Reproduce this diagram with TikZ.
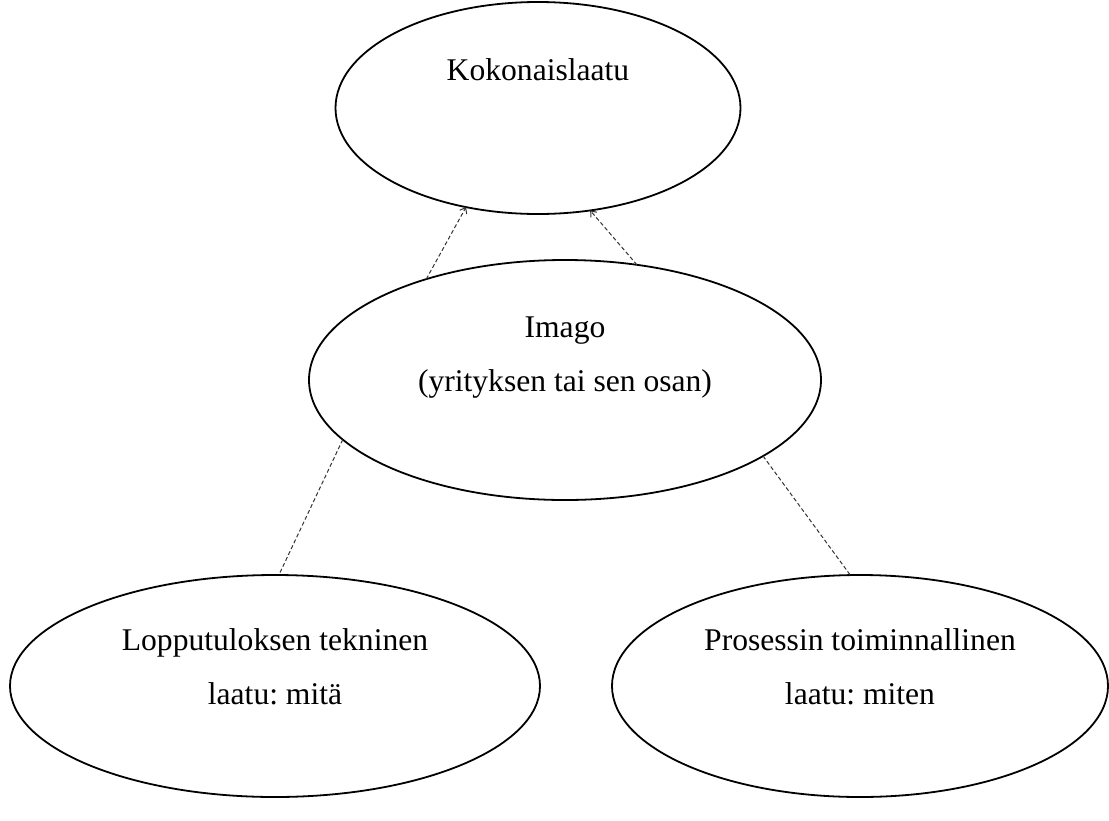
\documentclass[tikz,border=0pt]{standalone}
\usepackage{fontspec}
\setmainfont{Liberation Serif}
\frenchspacing
\usetikzlibrary{shapes.geometric,arrows.meta}
\begin{document}
\begin{tikzpicture}[x=1pt,y=-1pt,
  oval/.style={ellipse,draw=black,line width=1.8pt,inner sep=0pt,outer sep=0pt},
  lbl/.style={align=center,font=\fontsize{31.6}{54}\selectfont,inner sep=0pt},
  link/.style={draw=black!80,line width=1pt,dash pattern=on 4pt off 2.5pt},
  arr/.style={link,-{Straight Barb[length=5pt,width=8pt,line width=1pt]}}]
\useasboundingbox (0,0) rectangle (1109,820);
\node[oval,minimum width=405pt,minimum height=212pt] (top) at (538,108) {};
\node[oval,minimum width=512pt,minimum height=240pt] (mid) at (565,380) {};
\node[oval,minimum width=530pt,minimum height=222pt] (bl) at (275,686) {};
\node[oval,minimum width=496pt,minimum height=222pt] (br) at (860,686) {};
\node[lbl] (ttop) at (538,70) {Kokonaislaatu};
\node[lbl] (tmid) at (565,358) {Imago\\(yrityksen tai sen osan)};
\node[lbl] (tbl) at (275,667) {Lopputuloksen tekninen\\laatu: mitä};
\node[lbl] (tbr) at (860,667) {Prosessin toiminnallinen\\laatu: miten};
\draw[arr] (mid.144.3) -- (top.234.9);
\draw[arr] (mid.58.3) -- (top.297.4);
\draw[link] (mid.195.5) -- (bl.88.9);
\draw[link] (mid.339.9) -- (br.95.8);
\end{tikzpicture}
\end{document}
